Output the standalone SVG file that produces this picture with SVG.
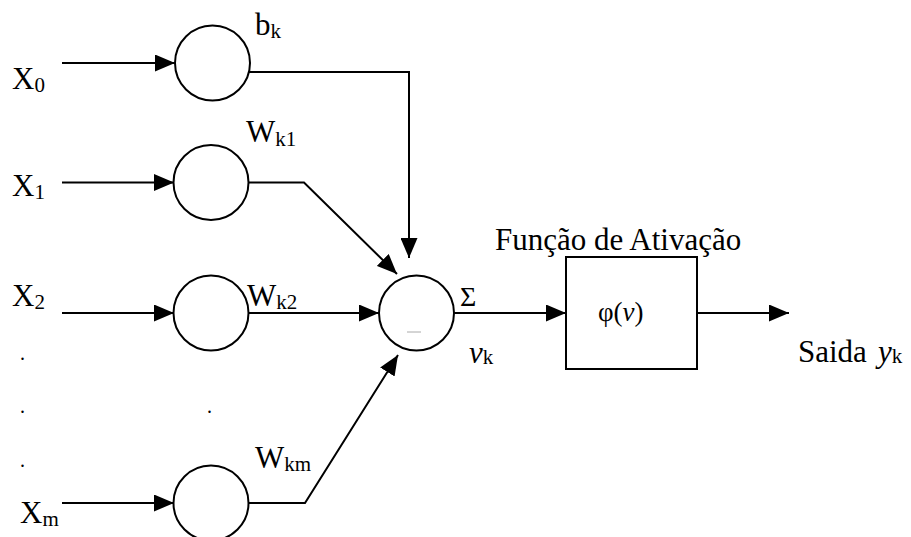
<svg xmlns="http://www.w3.org/2000/svg" width="911" height="537" viewBox="0 0 911 537">
<style>
.ln{fill:none;stroke:#000;stroke-width:2}
.nd{fill:#fff;stroke:#000;stroke-width:2}
.t{font-family:"Liberation Serif","Times New Roman",serif;font-size:31px;fill:#000}
.s{font-size:21px}
.i{font-style:italic}
</style>
<defs>
<marker id="ah" markerUnits="userSpaceOnUse" markerWidth="20" markerHeight="17" refX="20" refY="8.5" orient="auto" viewBox="0 0 20 17">
<path d="M0,0 L20,8.5 L0,17 z" fill="#000"/>
</marker>
</defs>
<g id="connectors">
<line class="ln" x1="62" y1="63" x2="175" y2="63" marker-end="url(#ah)"/>
<line class="ln" x1="62" y1="182.5" x2="174" y2="182.5" marker-end="url(#ah)"/>
<line class="ln" x1="62" y1="313" x2="174" y2="313" marker-end="url(#ah)"/>
<line class="ln" x1="62" y1="503" x2="174" y2="503" marker-end="url(#ah)"/>
<polyline class="ln" points="245,72 409,72 409,258" marker-end="url(#ah)"/>
<polyline class="ln" points="249,182.5 304,182.5 397,274" marker-end="url(#ah)"/>
<line class="ln" x1="249" y1="313" x2="379" y2="313" marker-end="url(#ah)"/>
<polyline class="ln" points="249,503 305,503 398,355" marker-end="url(#ah)"/>
<line class="ln" x1="454" y1="313" x2="566" y2="313" marker-end="url(#ah)"/>
<line class="ln" x1="697" y1="313" x2="789" y2="313" marker-end="url(#ah)"/>
</g>
<g id="n0"><circle class="nd" cx="212.5" cy="63" r="37.5"/></g>
<g id="n1"><circle class="nd" cx="211" cy="182.5" r="37.5"/></g>
<g id="n2"><circle class="nd" cx="211" cy="313" r="37.5"/></g>
<g id="nm"><circle class="nd" cx="211" cy="503" r="37.5"/></g>
<g id="sum"><circle class="nd" cx="416.5" cy="313" r="37.5"/>
<line x1="407" y1="332" x2="421" y2="332" stroke="#aaa" stroke-width="1"/></g>
<g id="act"><rect class="nd" x="566" y="257" width="131" height="112"/>
<text class="t" x="598" y="321" style="font-size:27px">φ(<tspan class="i">v</tspan>)</text></g>
<g id="labels">
<text class="t" x="12" y="89">X<tspan class="s" dy="3">0</tspan></text>
<text class="t" x="12" y="196">X<tspan class="s" dy="3">1</tspan></text>
<text class="t" x="12" y="306">X<tspan class="s" dy="3">2</tspan></text>
<text class="t" x="20" y="522.5">X<tspan class="s" dy="3">m</tspan></text>
<text class="t" x="255" y="35">b<tspan class="s" dy="3">k</tspan></text>
<text class="t" x="246" y="141.5">W<tspan class="s" dy="4">k1</tspan></text>
<text class="t" x="247" y="306">W<tspan class="s" dy="3">k2</tspan></text>
<text class="t" x="255" y="468">W<tspan class="s" dy="3">km</tspan></text>
<text class="t" x="20" y="360" style="font-size:20px">.</text>
<text class="t" x="20" y="413" style="font-size:20px">.</text>
<text class="t" x="20" y="467" style="font-size:20px">.</text>
<text class="t" x="207" y="413" style="font-size:20px">.</text>
<text class="t" x="460" y="306" style="font-size:28px">Σ</text>
<text class="t" x="469" y="363"><tspan class="i">v</tspan><tspan class="s" dy="1">k</tspan></text>
<text class="t" x="495" y="250">Função de Ativação</text>
<text class="t" x="798" y="361.5">Saida</text>
<text class="t" x="878" y="361.5"><tspan class="i">y</tspan><tspan class="s" dy="1">k</tspan></text>
</g>
</svg>
